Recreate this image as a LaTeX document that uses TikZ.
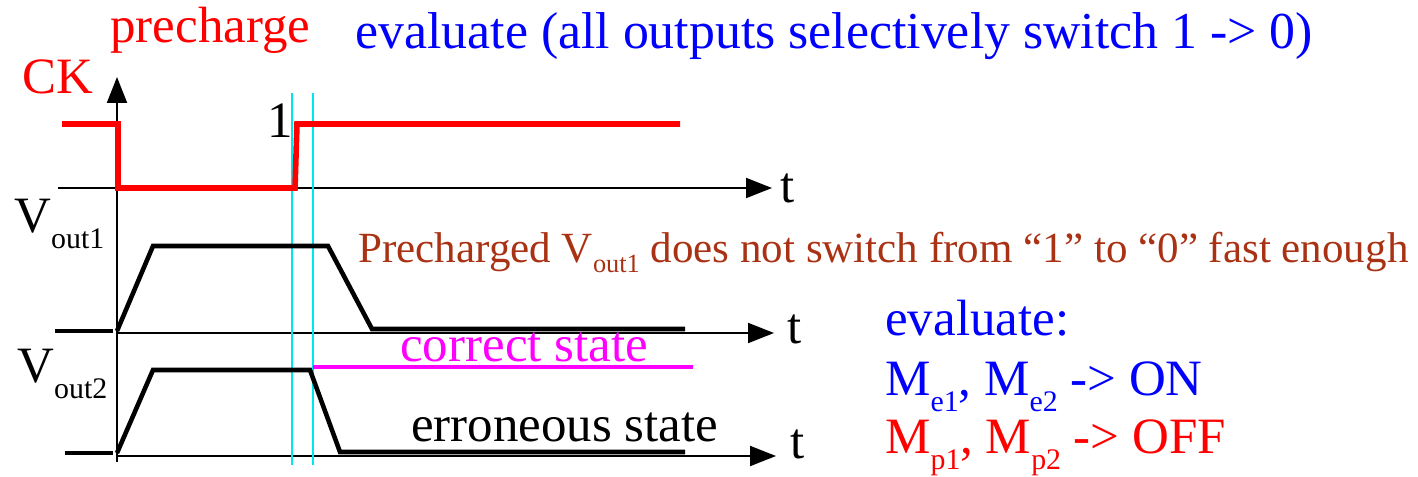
\documentclass[tikz,border=0pt]{standalone}
\usepackage{fontspec}
\setmainfont{Liberation Serif}
\usetikzlibrary{arrows.meta}
\definecolor{brownish}{RGB}{170,50,20}
\definecolor{cyanl}{RGB}{0,230,240}
\definecolor{pureRed}{RGB}{255,0,0}
\definecolor{pureBlue}{RGB}{0,0,255}
\definecolor{pureMag}{RGB}{255,0,255}
\newcommand{\sbs}[1]{\raisebox{-0.33em}{\fontsize{17}{19}\selectfont #1}}
\newcommand{\sbp}[1]{\raisebox{-0.25em}{\fontsize{15}{17}\selectfont #1}}
\begin{document}
\begin{tikzpicture}[x=0.02cm,y=-0.02cm,
  axis/.style={line width=1.2pt,-{Triangle[length=0.52cm,width=0.4cm]}},
  sig/.style={line width=2.6pt,line join=miter},
  ck/.style={line width=3.2pt,pureRed},
  big/.style={font=\fontsize{29}{32}\selectfont,inner sep=0pt,anchor=base west},
  mid/.style={font=\fontsize{24.5}{27}\selectfont,inner sep=0pt,anchor=base west}]
\useasboundingbox (0,0) rectangle (1418,477);
% coordinates
\coordinate (yb) at (117,462);
\coordinate (yt) at (117,77);
\coordinate (a1s) at (58,188); \coordinate (a1e) at (772,188);
\coordinate (a2s) at (117,333); \coordinate (a2e) at (774,333);
\coordinate (a3s) at (117,456); \coordinate (a3e) at (776,456);
% axes
\draw[axis] (yb) -- (yt);
\draw[axis] (a1s) -- (a1e);
\draw[axis] (a2s) -- (a2e);
\draw[axis] (a3s) -- (a3e);
% cyan markers
\draw[cyanl,line width=1pt] (292,93) -- (292,465);
\draw[cyanl,line width=1pt] (313,93) -- (313,465);
% CK
\draw[ck] (62,124) -- (118,124) -- (118,188) -- (295,188) -- (297,124) -- (680,124);
% Vout1
\draw[sig] (55,331) -- (113,331);
\draw[sig] (117,331) -- (153,246) -- (328,246) -- (372,329) -- (685,329);
% Vout2
\draw[sig] (65,453) -- (113,453);
\draw[sig] (117,453) -- (153,370) -- (310,370) -- (340,452) -- (685,452);
\draw[pureMag,line width=2.6pt] (313,367) -- (693,367);
% labels
\node[big,pureRed] (pre) at (110,42) {precharge};
\node[big,pureBlue,font=\fontsize{29.5}{32}\selectfont] (ev) at (355,48) {evaluate (all outputs selectively switch 1 -> 0)};
\node[big,pureRed] (ckl) at (22,93) {CK};
\node[big] (one) at (267,137) {1};
\node[big] (t1) at (780,202) {t};
\node[big] (t2) at (787,343) {t};
\node[big] (t3) at (790,458) {t};
\node[big] (v1) at (14,232) {V\sbs{out1}};
\node[big] (v2) at (17,382) {V\sbs{out2}};
\node[mid,brownish] (pc) at (358,262) {Precharged V\sbp{out1} does not switch from “1” to “0” fast enough};
\node[big,pureMag] (cs) at (400,361) {correct state};
\node[big] (es) at (411,441) {erroneous state};
\node[big,pureBlue] (e2) at (885,335) {evaluate:};
\node[big,pureBlue] (me) at (885,395) {M\sbs{e1}, M\sbs{e2} -> ON};
\node[big,pureRed] (mp) at (885,453) {M\sbs{p1}, M\sbs{p2} -> OFF};
\end{tikzpicture}
\end{document}
